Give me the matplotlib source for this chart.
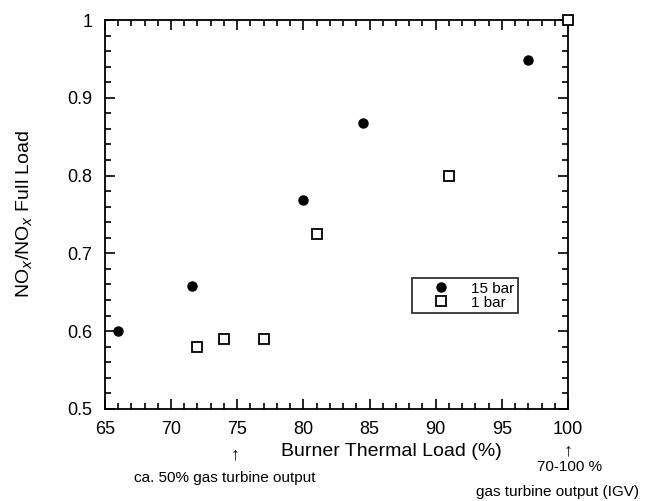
import matplotlib.pyplot as plt
from matplotlib.ticker import MultipleLocator

plt.rcParams['font.family'] = ['Liberation Sans', 'DejaVu Sans']

# data
load_15bar = [66.0, 71.6, 80.0, 84.5, 97.0]
nox_15bar = [0.60, 0.658, 0.768, 0.868, 0.949]
load_1bar = [72.0, 74.0, 77.0, 81.0, 91.0, 100.0]
nox_1bar = [0.58, 0.59, 0.59, 0.725, 0.799, 1.0]

fig = plt.figure(figsize=(6.47, 5.01), dpi=100)
ax = fig.add_axes([0.162, 0.184, 0.716, 0.776])

ax.plot(load_15bar, nox_15bar, 'o', color='black', markersize=6.5, label='15 bar', clip_on=False)
ax.plot(load_1bar, nox_1bar, 's', markerfacecolor='white', markeredgecolor='black',
        markeredgewidth=1.3, markersize=7, label='1 bar', clip_on=False, zorder=5)

ax.set_xlim(65, 100)
ax.set_ylim(0.5, 1.0)
ax.xaxis.set_major_locator(MultipleLocator(5))
ax.xaxis.set_minor_locator(MultipleLocator(1))
ax.yaxis.set_minor_locator(MultipleLocator(0.02))
ax.set_yticks([0.5, 0.6, 0.7, 0.8, 0.9, 1.0])
ax.set_yticklabels(['0.5', '0.6', '0.7', '0.8', '0.9', '1'])
ax.tick_params(which='both', direction='in', top=True, right=True, labelsize=13, width=1.2)
ax.tick_params(axis='x', pad=9)
ax.tick_params(axis='y', pad=9)
ax.tick_params(which='major', length=7)
ax.tick_params(which='minor', length=4)
for s in ax.spines.values():
    s.set_linewidth(1.3)

ax.set_ylabel('NO$_x$/NO$_x$ Full Load', fontsize=14)
ax.yaxis.set_label_coords(-0.15, 0.5)

leg = ax.legend(loc='upper left', bbox_to_anchor=(0.663, 0.337), frameon=True, fancybox=False,
                edgecolor='black', fontsize=11, handletextpad=0.3, borderpad=0.25,
                labelspacing=0.0, handlelength=3.3, borderaxespad=0)
leg.get_frame().set_linewidth(1.3)

# x label and annotations placed in figure pixels
fig.text(391 / 647, 1 - 452 / 501, 'Burner Thermal Load (%)', ha='center', va='center', fontsize=14)
fig.text(235 / 647, 1 - 455 / 501, '\u2191', ha='center', va='center', fontsize=13)
fig.text(225 / 647, 1 - 478 / 501, 'ca. 50% gas turbine output', ha='center', va='center', fontsize=11)
fig.text(568 / 647, 1 - 451 / 501, '\u2191', ha='center', va='center', fontsize=13)
fig.text(570 / 647, 1 - 467 / 501, '70-100 %', ha='center', va='center', fontsize=11)
fig.text(558 / 647, 1 - 492 / 501, 'gas turbine output (IGV)', ha='center', va='center', fontsize=11)

fig.savefig('out.png', dpi=100)
